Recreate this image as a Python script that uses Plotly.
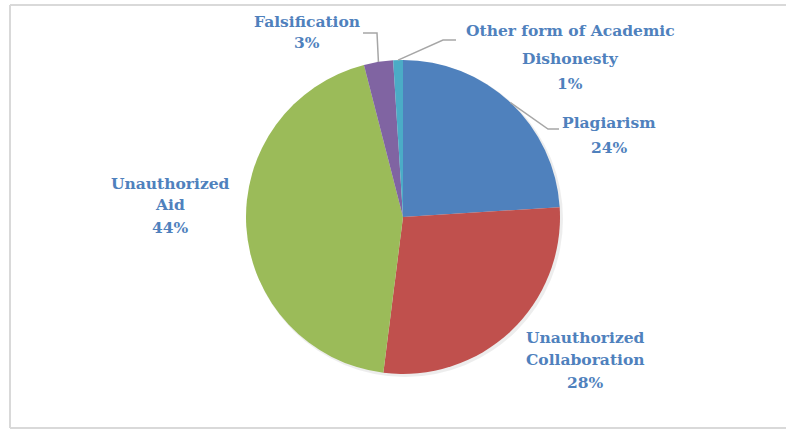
import math
import plotly.graph_objects as go

categories = ["Plagiarism", "Unauthorized Collaboration", "Unauthorized Aid",
              "Falsification", "Other form of Academic Dishonesty"]
values = [24, 28, 44, 3, 1]
label_lines = [["Plagiarism", "24%"],
               ["Unauthorized", "Collaboration", "28%"],
               ["Unauthorized", "Aid", "44%"],
               ["Falsification", "3%"],
               ["Other form of Academic", "Dishonesty", "1%"]]
colors = ["#4F81BD", "#C0504D", "#9BBB59", "#8064A2", "#4BACC6"]

W, H = 786, 430
cx, cy, R = 403, 217, 157
TXT = "#4F81BD"
FONT = "DejaVu Serif"

def px(x):
    return x / W

def py(y):
    return 1 - y / H

fig = go.Figure(go.Pie(
    labels=categories, values=values, sort=False, direction="clockwise",
    rotation=0, textinfo="none", hoverinfo="label+percent",
    marker=dict(colors=colors, line=dict(width=0)),
    domain=dict(x=[px(cx - R), px(cx + R)], y=[py(cy + R), py(cy - R)]),
    showlegend=False,
))

shapes = []
# chart border: left, top and bottom edges
for (x0, y0, x1, y1) in [(10, 5, 786, 5), (10, 5, 10, 428), (10, 428, 786, 428)]:
    shapes.append(dict(type="line", xref="paper", yref="paper",
                       x0=px(x0), y0=py(y0), x1=px(x1), y1=py(y1),
                       line=dict(color="#D9D9D9", width=2), layer="below"))
# soft shadow
shapes.append(dict(type="circle", xref="paper", yref="paper",
                   x0=px(cx - R + 1), x1=px(cx + R + 3), y0=py(cy + R + 3), y1=py(cy - R + 1),
                   fillcolor="rgba(0,0,0,0.07)", line=dict(width=0), layer="below"))

# anchor points on the rim from data
total = sum(values)
cum = 0
anchors = []
for v in values:
    mid = (cum + v / 2) / total * 2 * math.pi
    anchors.append((cx + R * math.sin(mid), cy - R * math.cos(mid)))
    cum += v

# leader lines: (index, elbow, end)
leaders = [(0, (548, 129), (559, 129)),
           (3, (377, 33), (363, 33)),
           (4, (443, 40), (456, 40))]
for i, elbow, end in leaders:
    ax_, ay_ = anchors[i]
    path = f"M {px(ax_)},{py(ay_)} L {px(elbow[0])},{py(elbow[1])} L {px(end[0])},{py(end[1])}"
    shapes.append(dict(type="path", xref="paper", yref="paper", path=path,
                       line=dict(color="#A6A6A6", width=1.5)))

# label line positions (center x, list of y)
label_pos = [(609, [123, 147]),
             (585, [337, 359, 382]),
             (170, [183, 205, 228]),
             (307, [22, 43]),
             (570, [30, 59, 83])]
annotations = []
for lines, (x, ys) in zip(label_lines, label_pos):
    for t, y in zip(lines, ys):
        annotations.append(dict(text=t, x=px(x), y=py(y), xref="paper", yref="paper",
                                xanchor="center", yanchor="middle", showarrow=False,
                                font=dict(family=FONT, size=15.5, color=TXT, weight="bold")))

fig.update_layout(width=W, height=H, margin=dict(l=0, r=0, t=0, b=0),
                  paper_bgcolor="white", plot_bgcolor="white",
                  shapes=shapes, annotations=annotations)
fig.write_html("out.html", config={"displayModeBar": False},
               post_script="document.body.style.margin='0';document.body.style.overflow='hidden';")
